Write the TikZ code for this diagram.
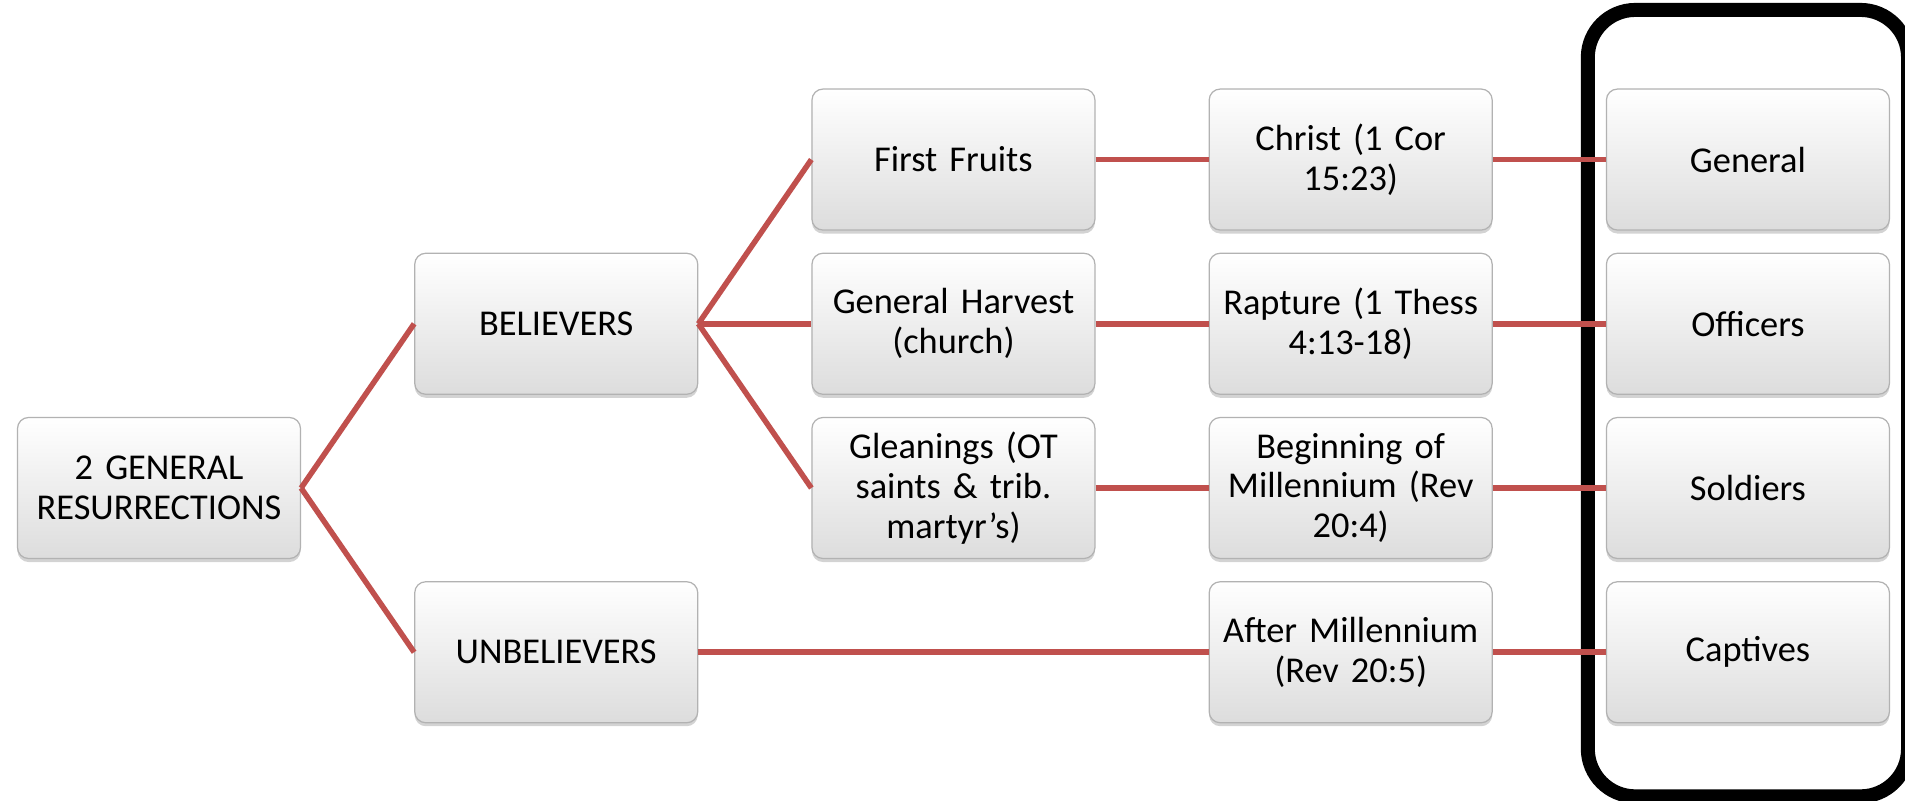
\documentclass[tikz,border=0pt]{standalone}
\usepackage{fontspec}
\setmainfont{Carlito}[WordSpace=0.9]
\usetikzlibrary{positioning,shadows,calc}
\definecolor{linkred}{HTML}{C0504D}
\tikzset{
  box/.style={rectangle, rounded corners=0.22cm, draw=gray!60, line width=0.7pt,
    top color=white, bottom color=gray!27, minimum width=5.66cm, minimum height=2.82cm,
    text width=5.3cm, align=center, font=\fontsize{20.7}{22.7}\selectfont,
    drop shadow={opacity=0.35, shadow xshift=0pt, shadow yshift=-0.07cm}},
  link/.style={draw=linkred, line width=0.11cm},
  frame/.style={draw=black, line width=0.28cm, rounded corners=0.95cm}
}

\begin{document}
\begin{tikzpicture}[node distance=0.44cm and 2.26cm]
    \useasboundingbox (0,0) rectangle (38.1,-16.02);
    \node[box] (root) at (3.18,-9.76) {2 GENERAL\\RESURRECTIONS};

    % second column
    \node[box] (believers) [above right = 0.44cm and 2.26cm of root] {BELIEVERS};
    \node[box] (unbelievers) [below right = 0.44cm and 2.26cm of root] {UNBELIEVERS};

    % third column
    \node[box] (harvest) [right = of believers] {General Harvest\\(church)};
    \node[box] (fruits) [above = of harvest] {First Fruits};
    \node[box] (gleanings) [below = of harvest] {Gleanings (OT\\saints \& trib.\\martyr’s)};

    % fourth column
    \node[box] (christ) [right = of fruits] {Christ (1 Cor\\15:23)};
    \node[box] (rapture) [right = of harvest] {Rapture (1 Thess\\4:13-18)};
    \node[box] (beginning) [right = of gleanings] {Beginning of\\Millennium (Rev\\20:4)};
    \node[box] (after) [below = of beginning] {After Millennium\\(Rev 20:5)};

    % ranks
    \node[box] (general) [right = of christ] {General};
    \node[box] (officers) [right = of rapture] {Officers};
    \node[box] (soldiers) [right = of beginning] {Soldiers};
    \node[box] (captives) [right = of after] {Captives};

    \draw[frame] ([shift={(-0.36cm,1.57cm)}]general.north west)
        rectangle ([shift={(0.36cm,-1.46cm)}]captives.south east);

    \path[every edge/.style={link}]
          (root.east) edge (believers.west)
          (root.east) edge (unbelievers.west)
          (believers.east) edge (fruits.west)
          (believers.east) edge (harvest.west)
          (believers.east) edge (gleanings.west)
          (fruits.east) edge (christ.west)
          (harvest.east) edge (rapture.west)
          (gleanings.east) edge (beginning.west)
          (unbelievers.east) edge (after.west)
          (christ.east) edge (general.west)
          (rapture.east) edge (officers.west)
          (beginning.east) edge (soldiers.west)
          (after.east) edge (captives.west)
          ;
\end{tikzpicture}
\end{document}
